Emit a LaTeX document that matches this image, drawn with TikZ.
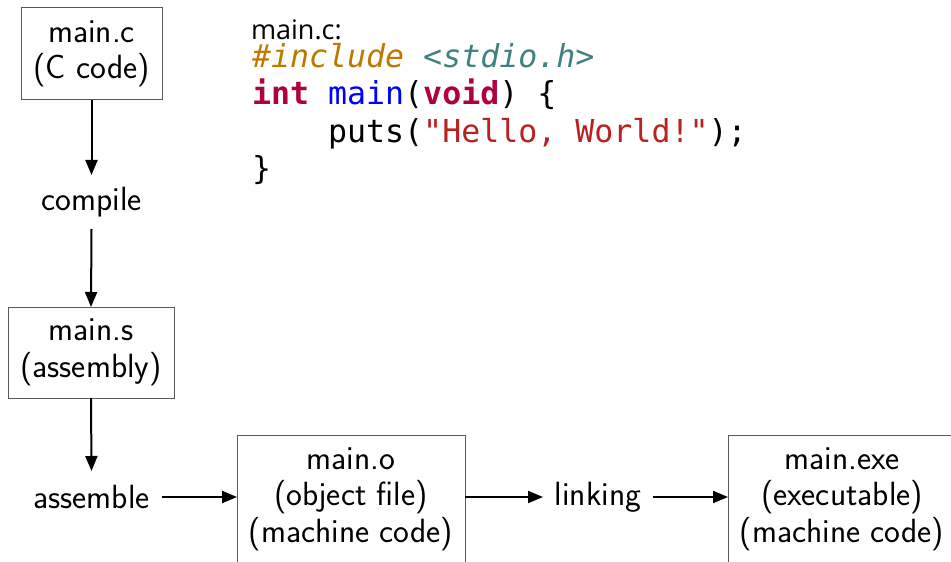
\documentclass[tikz,border=0pt]{standalone}
\usepackage{fontspec}
\usetikzlibrary{arrows.meta}
\newfontfamily\codefont{DejaVu Sans Mono}
\newfontfamily\labelfont{Open Sans}
\definecolor{ppc}{HTML}{BC7A00}
\definecolor{pfile}{HTML}{408080}
\definecolor{pkw}{HTML}{B00040}
\definecolor{pfn}{HTML}{0000FF}
\definecolor{pstr}{HTML}{BA2121}
\begin{document}
\begin{tikzpicture}[x=0.5pt,y=-0.5pt,
  every node/.style={font=\sffamily\fontsize{16.8}{18.3}\selectfont, inner sep=0pt, outer sep=0pt},
  filebox/.style={draw=black!65, line width=0.5pt, align=center},
  stepname/.style={align=center},
  arr/.style={line width=1pt, -{Triangle[length=7.5pt,width=6pt]}},
  codeline/.style={anchor=base west, font=\codefont\fontsize{15.8}{18.5}\selectfont}]
\useasboundingbox (0,0) rectangle (951,561);
% boxes
\node[filebox, minimum width=70.5pt, minimum height=46pt] (mainc) at (91.5,54) {main.c\\(C code)};
\node[stepname, minimum width=60pt, minimum height=27pt] (compile) at (91.5,202) {compile};
\node[filebox, minimum width=83pt, minimum height=45.5pt] (mains) at (91,352.5) {main.s\\(assembly)};
\node[stepname, minimum width=70pt, minimum height=26pt] (assemble) at (91.5,497) {assemble};
\node[filebox, minimum width=114pt, minimum height=64pt] (maino) at (351,499) {main.o\\(object file)\\(machine code)};
\node[stepname, minimum width=55pt, minimum height=20pt] (linking) at (598,497) {linking};
\node[filebox, minimum width=114pt, minimum height=64pt] (mainexe) at (842,499) {main.exe\\(executable)\\(machine code)};
% arrows
\draw[arr] (mainc.south) -- (compile.north);
\draw[arr] (compile.south) -- (mains.north);
\draw[arr] (mains.south) -- (assemble.north);
\draw[arr] (assemble.east) -- (assemble.east -| maino.west);
\draw[arr] (maino.east |- linking.west) -- (linking.west);
\draw[arr] (linking.east) -- (linking.east -| mainexe.west);
% code
\node[anchor=base west, font=\labelfont\fontsize{13.5}{14}\selectfont] (codelabel) at (251,40) {main.c:};
\node[codeline] (l1) at (252,68) {\textcolor{ppc}{\itshape\#include} \textcolor{pfile}{\itshape<stdio.h>}};
\node[codeline] (l2) at (252,105) {\textcolor{pkw}{\bfseries int} \textcolor{pfn}{main}(\textcolor{pkw}{\bfseries void}) \{};
\node[codeline] (l3) at (252,143) {\phantom{xxxx}puts(\textcolor{pstr}{"Hello, World!"});};
\node[codeline] (l4) at (252,180) {\}};
\end{tikzpicture}
\end{document}
